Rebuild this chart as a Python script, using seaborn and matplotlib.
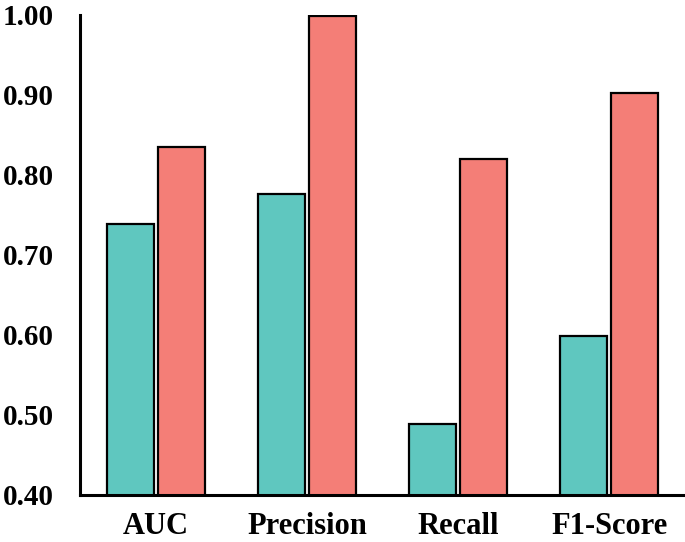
import pandas as pd
import matplotlib.pyplot as plt
import seaborn as sns

# --- dados ---
metricas = ['AUC', 'Precision', 'Recall', 'F1-Score']
modelo_a = [0.739, 0.776, 0.488, 0.598]
modelo_b = [0.835, 0.998, 0.819, 0.902]
modelos = ['A', 'B']
cores = ['#5FC7BF', '#F47E77']

df = pd.DataFrame({
    'Metrica': metricas * 2,
    'Valor': modelo_a + modelo_b,
    'Modelo': [modelos[0]] * 4 + [modelos[1]] * 4,
})

sns.set_theme(style='white')
plt.rcParams['font.family'] = ['Liberation Serif', 'DejaVu Serif']
plt.rcParams['font.weight'] = 'bold'

fig = plt.figure(figsize=(6.85, 5.42), dpi=100)
ax = fig.add_axes([0.117, 0.087, 0.883, 0.886])

sns.barplot(data=df, x='Metrica', y='Valor', hue='Modelo', order=metricas,
            palette=cores, saturation=1, width=0.675, gap=0.08,
            edgecolor='black', linewidth=1.6, legend=False, ax=ax)

ax.set_ylim(0.40, 1.00)
ax.set_xlim(-0.5, 3.5)
ax.set_yticks([0.4, 0.5, 0.6, 0.7, 0.8, 0.9, 1.0])
ax.set_yticklabels([f'{v:.2f}' for v in ax.get_yticks()])
ax.set_xlabel('')
ax.set_ylabel('')
ax.tick_params(axis='y', length=0, pad=19, labelsize=21, labelcolor='black')
ax.tick_params(axis='x', length=0, pad=12, labelsize=22, labelcolor='black')
for lab in ax.get_xticklabels() + ax.get_yticklabels():
    lab.set_fontweight('bold')

sns.despine(ax=ax)
for s in ['left', 'bottom']:
    ax.spines[s].set_color('black')
    ax.spines[s].set_linewidth(2.2)

fig.savefig('out.png', dpi=100)
